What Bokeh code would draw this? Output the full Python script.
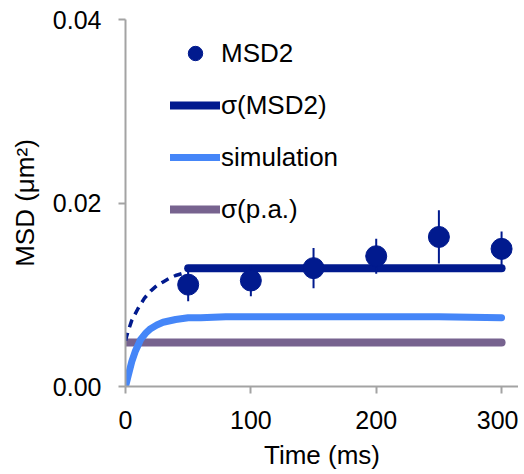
from bokeh.plotting import figure
from bokeh.models import (Range1d, FixedTicker, NumeralTickFormatter, Legend, LegendItem)
from bokeh.embed import file_html
from bokeh.resources import INLINE

# ---- data ----
msd_t = [50, 100, 150, 200, 250, 300]
msd_val = [0.0111, 0.01155, 0.0129, 0.0142, 0.0163, 0.0150]
msd_err = [0.0018, 0.0017, 0.0022, 0.0019, 0.0029, 0.0019]

sigma_msd_t = [50, 300]
sigma_msd_val = [0.0129, 0.0129]

dash_t = [0, 2, 5, 10, 15, 20, 25, 30, 35, 40, 45, 50]
dash_val = [0.0050, 0.0060, 0.0072, 0.0085, 0.0096, 0.0104, 0.0110, 0.0114, 0.0118, 0.0121, 0.0123, 0.0125]

sim_t = [0, 2, 5, 8, 12, 16, 20, 25, 30, 40, 50, 60, 80, 100, 150, 200, 250, 300]
sim_val = [0.0, 0.0011, 0.0027, 0.0039, 0.0051, 0.0058, 0.0063, 0.0067, 0.0070, 0.0073,
           0.0075, 0.0075, 0.0076, 0.0076, 0.0076, 0.0076, 0.0076, 0.0075]

pa_t = [0, 300]
pa_val = [0.0048, 0.0048]

x_ticks = [0, 100, 200, 300]
y_ticks = [0.0, 0.02, 0.04]

NAVY = "#011a8e"
LBLUE = "#4586f8"
PURPLE = "#77638f"
FONT = "Liberation Sans"
AXIS_GRAY = "#a3a3a3"

p = figure(width=518, height=474, output_backend="svg", toolbar_location=None,
           x_range=Range1d(0, 313.5), y_range=Range1d(0, 0.04),
           min_border_left=125, min_border_right=0, min_border_top=19, min_border_bottom=88)
p.outline_line_color = None
p.xgrid.visible = False
p.ygrid.visible = False
p.background_fill_color = "white"

for ax in (p.xaxis[0], p.yaxis[0]):
    ax.axis_line_color = AXIS_GRAY
    ax.axis_line_width = 2
    ax.major_tick_line_color = AXIS_GRAY
    ax.major_tick_line_width = 2
    ax.major_tick_in = 0
    ax.major_tick_out = 7
    ax.minor_tick_line_color = None
    ax.major_label_text_font = FONT
    ax.major_label_text_font_size = "25px"
    ax.major_label_text_color = "black"
    ax.axis_label_text_font = FONT
    ax.axis_label_text_font_size = "26px"
    ax.axis_label_text_font_style = "normal"
    ax.axis_label_text_color = "black"

p.xaxis.ticker = FixedTicker(ticks=x_ticks)
p.yaxis.ticker = FixedTicker(ticks=y_ticks)
p.yaxis.formatter = NumeralTickFormatter(format="0.00")
p.xaxis.axis_label = "Time (ms)"
p.yaxis.axis_label = "MSD (\u03bcm\u00b2)"
p.xaxis.major_label_standoff = 17
p.yaxis.major_label_standoff = 17
p.xaxis.axis_label_standoff = 8
p.yaxis.axis_label_standoff = 10

# purple sigma(p.a.)
r_pa = p.line(pa_t, pa_val, line_color=PURPLE, line_width=8, line_cap="round")
# simulation
r_sim = p.line(sim_t, sim_val, line_color=LBLUE, line_width=7, line_cap="round", line_join="round")
# dashed curve
p.line(dash_t, dash_val, line_color=NAVY, line_width=3.5, line_dash="8 6")
# sigma(MSD2)
r_sig = p.line(sigma_msd_t, sigma_msd_val, line_color=NAVY, line_width=8, line_cap="round")
# error bars
lower = [v - e for v, e in zip(msd_val, msd_err)]
upper = [v + e for v, e in zip(msd_val, msd_err)]
p.segment(x0=msd_t, y0=lower, x1=msd_t, y1=upper, line_color=NAVY, line_width=2)
# markers
r_msd = p.scatter(msd_t, msd_val, size=21, fill_color=NAVY, line_color=NAVY)

legend = Legend(items=[
    LegendItem(label="MSD2", renderers=[r_msd]),
    LegendItem(label="\u03c3(MSD2)", renderers=[r_sig]),
    LegendItem(label="simulation", renderers=[r_sim]),
    LegendItem(label="\u03c3(p.a.)", renderers=[r_pa]),
], location=(45, 159))
legend.background_fill_alpha = 0
legend.border_line_alpha = 0
legend.padding = 0
legend.margin = 0
legend.spacing = 16
legend.glyph_width = 50
legend.glyph_height = 36
legend.label_height = 36
legend.label_standoff = 1
legend.label_text_font = FONT
legend.label_text_font_size = "26px"
legend.label_text_color = "black"
p.add_layout(legend, "center")

open("out.html", "w").write(file_html(p, INLINE))
